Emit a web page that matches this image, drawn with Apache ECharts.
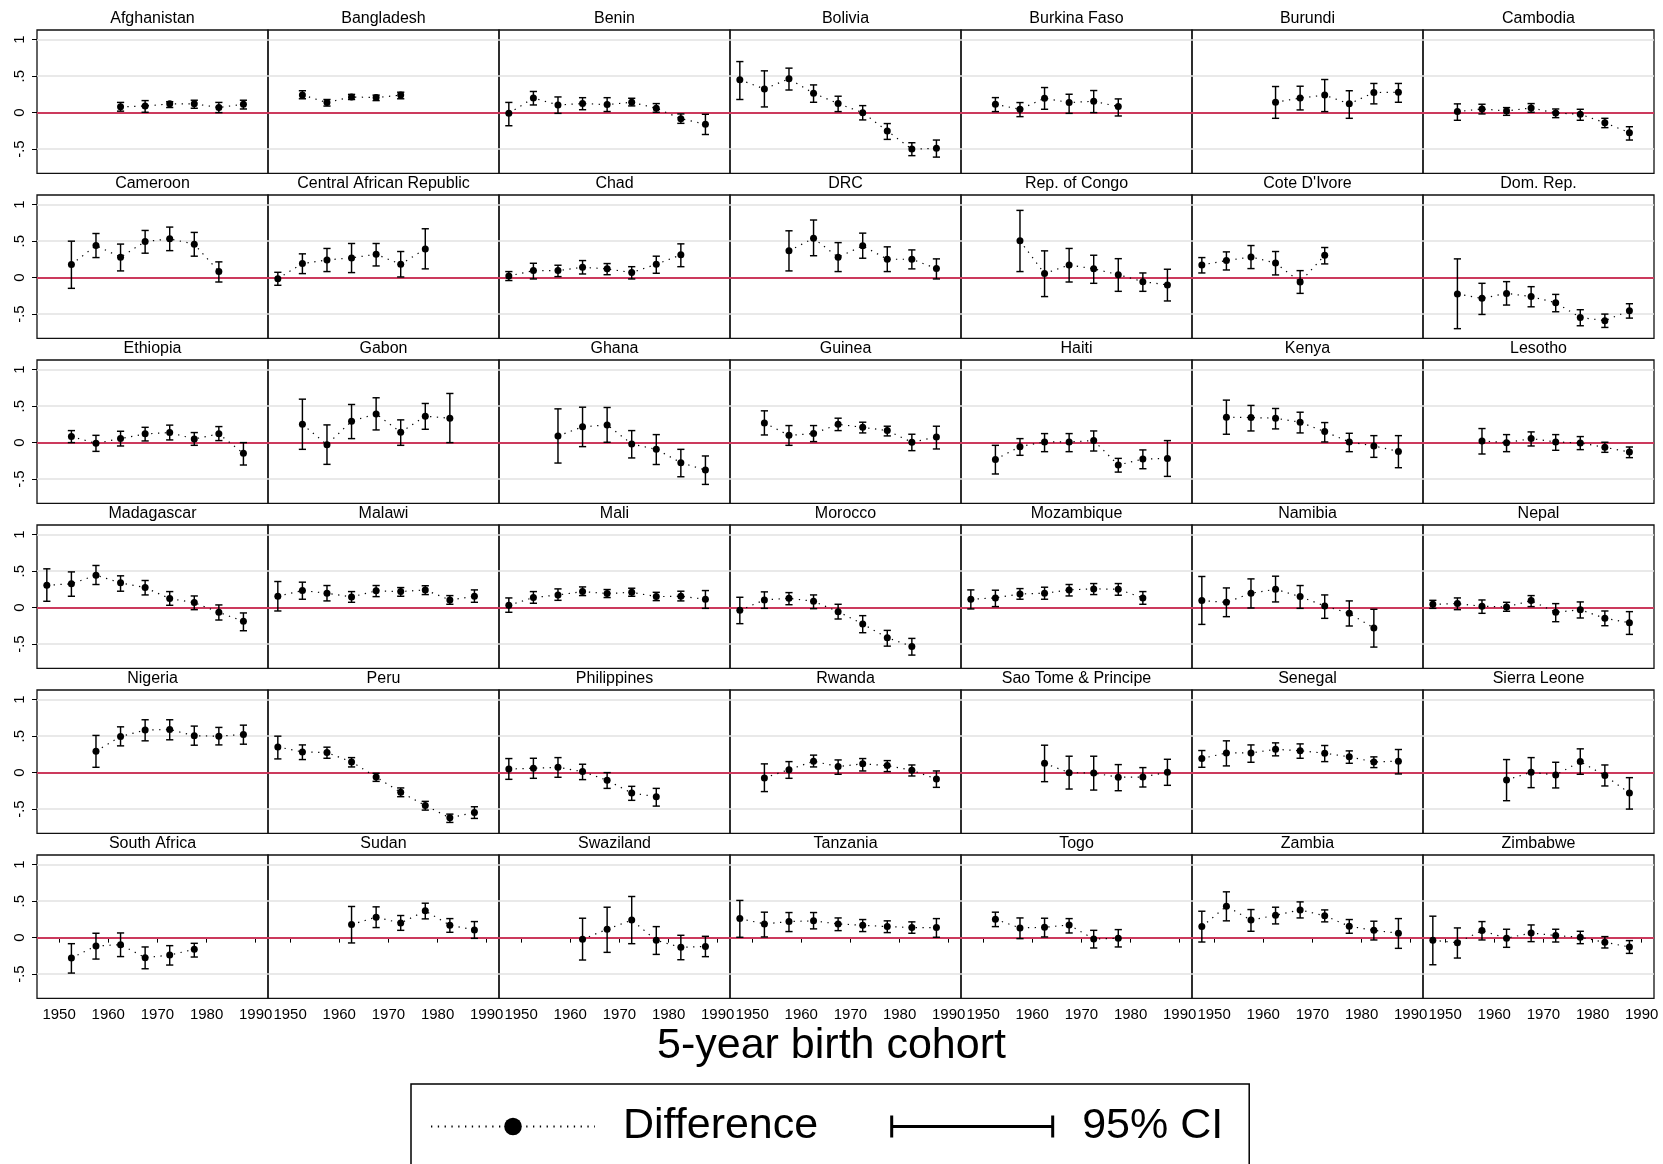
<!DOCTYPE html>
<html>
<head>
<meta charset="utf-8">
<script src="https://cdn.jsdelivr.net/npm/echarts@6/dist/echarts.min.js"></script>
<style>
  html, body { margin: 0; padding: 0; background: #ffffff; }
  #chart { width: 1663px; height: 1164px; }
</style>
</head>
<body>
<div id="chart"></div>
<script>
// Panels, in reading order (7 per row)
const countries = [
  'Afghanistan', 'Bangladesh', 'Benin', 'Bolivia', 'Burkina Faso', 'Burundi', 'Cambodia',
  'Cameroon', 'Central African Republic', 'Chad', 'DRC', 'Rep. of Congo', "Cote D'Ivore", 'Dom. Rep.',
  'Ethiopia', 'Gabon', 'Ghana', 'Guinea', 'Haiti', 'Kenya', 'Lesotho',
  'Madagascar', 'Malawi', 'Mali', 'Morocco', 'Mozambique', 'Namibia', 'Nepal',
  'Nigeria', 'Peru', 'Philippines', 'Rwanda', 'Sao Tome & Principe', 'Senegal', 'Sierra Leone',
  'South Africa', 'Sudan', 'Swaziland', 'Tanzania', 'Togo', 'Zambia', 'Zimbabwe'
];

// Midpoints of the 5-year birth cohorts
const cohorts = [1947.5, 1952.5, 1957.5, 1962.5, 1967.5, 1972.5, 1977.5, 1982.5, 1987.5];

// Tick values and their printed labels
const xTicks = [1950, 1960, 1970, 1980, 1990];
const yTicks = [-0.5, 0, 0.5, 1];
const yTickLabels = ['-.5', '0', '.5', '1'];

// Estimated difference per cohort (null = cohort not observed)
const difference = [
  [null, null, null, 0.08, 0.09, 0.12, 0.12, 0.07, 0.115],          // Afghanistan
  [null, 0.243, 0.138, 0.215, 0.206, 0.24, null, null, null],       // Bangladesh
  [-0.01, 0.20, 0.105, 0.124, 0.11, 0.142, 0.06, -0.083, -0.16],    // Benin
  [0.45, 0.325, 0.463, 0.266, 0.124, 0.0, -0.252, -0.50, -0.49],    // Bolivia
  [null, 0.115, 0.046, 0.197, 0.138, 0.156, 0.083, null, null],     // Burkina Faso
  [null, null, null, 0.142, 0.20, 0.24, 0.12, 0.275, 0.28],         // Burundi
  [null, 0.014, 0.05, 0.023, 0.064, -0.005, -0.023, -0.138, -0.275],// Cambodia
  [null, 0.18, 0.44, 0.28, 0.495, 0.532, 0.459, 0.083, null],       // Cameroon
  [-0.014, 0.193, 0.243, 0.27, 0.32, 0.183, 0.394, null, null],     // Central African Republic
  [0.023, 0.096, 0.096, 0.142, 0.12, 0.069, 0.183, 0.312, null],    // Chad
  [null, null, 0.367, 0.54, 0.28, 0.436, 0.252, 0.252, 0.124],      // DRC
  [null, null, 0.505, 0.055, 0.174, 0.12, 0.041, -0.055, -0.10],    // Rep. of Congo
  [0.174, 0.234, 0.284, 0.20, -0.06, 0.307, null, null, null],      // Cote D'Ivore
  [null, -0.225, -0.284, -0.216, -0.26, -0.344, -0.546, -0.59, -0.454], // Dom. Rep.
  [null, 0.083, -0.01, 0.055, 0.12, 0.138, 0.05, 0.12, -0.147],     // Ethiopia
  [null, 0.252, -0.028, 0.294, 0.394, 0.142, 0.362, 0.335, null],   // Gabon
  [null, null, 0.092, 0.216, 0.243, -0.018, -0.092, -0.275, -0.376],// Ghana
  [null, 0.27, 0.10, 0.124, 0.252, 0.21, 0.165, 0.005, 0.078],      // Guinea
  [null, -0.23, -0.055, 0.01, 0.01, 0.028, -0.307, -0.225, -0.216], // Haiti
  [null, 0.349, 0.344, 0.335, 0.28, 0.151, 0.01, -0.046, -0.12],    // Kenya
  [null, null, 0.023, 0.0, 0.055, 0.01, -0.005, -0.064, -0.128],    // Lesotho
  [0.307, 0.326, 0.445, 0.34, 0.275, 0.124, 0.069, -0.064, -0.188], // Madagascar
  [0.156, 0.234, 0.197, 0.147, 0.23, 0.22, 0.243, 0.105, 0.156],    // Malawi
  [0.032, 0.138, 0.174, 0.22, 0.193, 0.21, 0.151, 0.156, 0.115],    // Mali
  [-0.037, 0.105, 0.128, 0.087, -0.055, -0.225, -0.413, -0.532, null], // Morocco
  [0.115, 0.133, 0.188, 0.197, 0.243, 0.257, 0.252, 0.133, null],   // Mozambique
  [0.096, 0.073, 0.197, 0.252, 0.151, 0.023, -0.078, -0.28, null],  // Namibia
  [0.046, 0.055, 0.018, 0.01, 0.096, -0.064, -0.028, -0.147, -0.206], // Nepal
  [null, null, 0.294, 0.495, 0.583, 0.592, 0.505, 0.50, 0.523],     // Nigeria
  [0.353, 0.284, 0.275, 0.147, -0.06, -0.27, -0.45, -0.62, -0.546], // Peru
  [0.05, 0.06, 0.073, 0.014, -0.105, -0.28, -0.33, null, null],     // Philippines
  [null, -0.073, 0.041, 0.156, 0.083, 0.12, 0.096, 0.032, -0.087],  // Rwanda
  [null, null, null, 0.128, 0.0, -0.005, -0.064, -0.06, 0.005],     // Sao Tome & Principe
  [0.193, 0.27, 0.27, 0.32, 0.30, 0.266, 0.216, 0.147, 0.156],      // Senegal
  [null, null, null, -0.10, 0.005, -0.032, 0.151, -0.04, -0.28],    // Sierra Leone
  [null, -0.28, -0.115, -0.096, -0.275, -0.239, -0.16, null, null], // South Africa
  [null, null, null, 0.18, 0.28, 0.20, 0.367, 0.17, 0.105],         // Sudan
  [null, null, null, -0.023, 0.115, 0.24, -0.037, -0.133, -0.12],   // Swaziland
  [0.261, 0.188, 0.22, 0.23, 0.188, 0.17, 0.151, 0.138, 0.138],     // Tanzania
  [null, 0.252, 0.133, 0.142, 0.174, -0.018, -0.01, null, null],    // Togo
  [0.151, 0.431, 0.24, 0.307, 0.38, 0.30, 0.156, 0.10, 0.06],       // Zambia
  [-0.037, -0.069, 0.096, -0.009, 0.064, 0.028, 0.005, -0.064, -0.128] // Zimbabwe
];

// Lower bound of the 95% confidence interval
const ciLow = [
  [null, null, null, 0.02, 0.005, 0.07, 0.06, 0.0, 0.05],
  [null, 0.19, 0.09, 0.18, 0.165, 0.19, null, null, null],
  [-0.18, 0.105, -0.01, 0.04, 0.015, 0.092, 0.005, -0.147, -0.30],
  [0.18, 0.078, 0.31, 0.142, 0.014, -0.10, -0.367, -0.59, -0.61],
  [null, 0.014, -0.055, 0.046, -0.01, 0.0, -0.046, null, null],
  [null, null, null, -0.078, 0.037, 0.014, -0.078, 0.12, 0.142],
  [null, -0.105, -0.018, -0.037, 0.005, -0.069, -0.105, -0.206, -0.376],
  [null, -0.147, 0.275, 0.092, 0.335, 0.37, 0.294, -0.06, null],
  [-0.105, 0.055, 0.083, 0.069, 0.16, 0.009, 0.12, null, null],
  [-0.04, -0.018, 0.014, 0.05, 0.04, -0.018, 0.06, 0.15, null],
  [null, null, 0.092, 0.30, 0.083, 0.266, 0.083, 0.12, -0.018],
  [null, null, 0.083, -0.26, -0.06, -0.078, -0.188, -0.188, -0.32],
  [0.064, 0.105, 0.124, 0.037, -0.216, 0.188, null, null, null],
  [null, -0.70, -0.505, -0.376, -0.40, -0.468, -0.66, -0.683, -0.555],
  [null, 0.0, -0.12, -0.046, 0.023, 0.037, -0.037, 0.028, -0.307],
  [null, -0.092, -0.298, 0.055, 0.174, -0.037, 0.183, 0.0, null],
  [null, null, -0.28, -0.055, 0.005, -0.21, -0.30, -0.468, -0.573],
  [null, 0.105, -0.037, 0.014, 0.165, 0.133, 0.092, -0.11, -0.087],
  [null, -0.43, -0.174, -0.124, -0.124, -0.115, -0.404, -0.358, -0.463],
  [null, 0.115, 0.16, 0.188, 0.133, 0.009, -0.124, -0.202, -0.344],
  [null, null, -0.156, -0.124, -0.046, -0.105, -0.096, -0.133, -0.206],
  [0.087, 0.156, 0.317, 0.225, 0.174, 0.032, -0.028, -0.17, -0.317],
  [-0.046, 0.115, 0.092, 0.073, 0.151, 0.156, 0.179, 0.046, 0.073],
  [-0.064, 0.06, 0.10, 0.165, 0.138, 0.156, 0.096, 0.092, -0.01],
  [-0.22, -0.01, 0.04, -0.014, -0.156, -0.344, -0.528, -0.651, null],
  [-0.018, 0.014, 0.115, 0.115, 0.16, 0.179, 0.17, 0.046, null],
  [-0.23, -0.124, -0.005, 0.078, -0.01, -0.147, -0.252, -0.541, null],
  [-0.01, -0.028, -0.078, -0.05, 0.014, -0.193, -0.142, -0.248, -0.367],
  [null, null, 0.073, 0.367, 0.436, 0.45, 0.376, 0.38, 0.39],
  [0.188, 0.179, 0.197, 0.078, -0.12, -0.33, -0.514, -0.683, -0.628],
  [-0.092, -0.078, -0.064, -0.096, -0.216, -0.38, -0.459, null, null],
  [null, -0.26, -0.078, 0.078, -0.023, 0.023, 0.014, -0.046, -0.202],
  [null, null, null, -0.124, -0.225, -0.239, -0.248, -0.197, -0.174],
  [0.073, 0.092, 0.142, 0.23, 0.197, 0.151, 0.128, 0.069, -0.018],
  [null, null, null, -0.385, -0.206, -0.21, -0.023, -0.183, -0.50],
  [null, -0.486, -0.294, -0.26, -0.427, -0.376, -0.266, null, null],
  [null, null, null, -0.073, 0.138, 0.10, 0.257, 0.073, -0.01],
  [null, null, null, -0.307, -0.202, -0.083, -0.23, -0.303, -0.261],
  [0.005, 0.009, 0.083, 0.12, 0.096, 0.083, 0.069, 0.06, 0.005],
  [null, 0.151, -0.014, 0.009, 0.064, -0.142, -0.128, null, null],
  [-0.06, 0.23, 0.087, 0.188, 0.27, 0.216, 0.06, -0.032, -0.147],
  [-0.372, -0.28, -0.032, -0.133, -0.055, -0.06, -0.083, -0.142, -0.216]
];

// Upper bound of the 95% confidence interval
const ciHigh = [
  [null, null, null, 0.14, 0.165, 0.15, 0.17, 0.14, 0.17],
  [null, 0.30, 0.18, 0.25, 0.24, 0.28, null, null, null],
  [0.14, 0.29, 0.215, 0.205, 0.205, 0.197, 0.124, -0.018, -0.023],
  [0.70, 0.573, 0.61, 0.38, 0.225, 0.096, -0.15, -0.413, -0.376],
  [null, 0.206, 0.138, 0.344, 0.252, 0.303, 0.188, null, null],
  [null, null, null, 0.358, 0.362, 0.454, 0.30, 0.40, 0.40],
  [null, 0.12, 0.115, 0.069, 0.124, 0.05, 0.046, -0.078, -0.193],
  [null, 0.50, 0.605, 0.46, 0.647, 0.693, 0.62, 0.216, null],
  [0.073, 0.326, 0.40, 0.468, 0.468, 0.358, 0.67, null, null],
  [0.083, 0.197, 0.17, 0.234, 0.193, 0.15, 0.294, 0.463, null],
  [null, null, 0.642, 0.79, 0.48, 0.61, 0.422, 0.38, 0.257],
  [null, null, 0.922, 0.367, 0.40, 0.307, 0.26, 0.064, 0.115],
  [0.275, 0.353, 0.44, 0.358, 0.096, 0.413, null, null, null],
  [null, 0.257, -0.078, -0.055, -0.124, -0.23, -0.44, -0.50, -0.358],
  [null, 0.165, 0.10, 0.156, 0.21, 0.24, 0.138, 0.22, 0.0],
  [null, 0.596, 0.243, 0.523, 0.615, 0.312, 0.537, 0.674, null],
  [null, null, 0.463, 0.486, 0.482, 0.165, 0.11, -0.092, -0.183],
  [null, 0.436, 0.234, 0.234, 0.335, 0.28, 0.225, 0.115, 0.225],
  [null, -0.037, 0.055, 0.124, 0.124, 0.16, -0.216, -0.10, 0.028],
  [null, 0.583, 0.51, 0.468, 0.417, 0.275, 0.128, 0.096, 0.096],
  [null, null, 0.193, 0.11, 0.147, 0.11, 0.083, 0.005, -0.06],
  [0.532, 0.49, 0.578, 0.436, 0.372, 0.22, 0.16, 0.037, -0.073],
  [0.358, 0.349, 0.303, 0.22, 0.303, 0.275, 0.30, 0.165, 0.243],
  [0.133, 0.22, 0.257, 0.284, 0.248, 0.266, 0.21, 0.225, 0.234],
  [0.142, 0.216, 0.206, 0.174, 0.046, -0.11, -0.312, -0.422, null],
  [0.243, 0.239, 0.261, 0.28, 0.317, 0.33, 0.33, 0.22, null],
  [0.427, 0.27, 0.394, 0.431, 0.303, 0.174, 0.092, -0.023, null],
  [0.10, 0.133, 0.105, 0.073, 0.165, 0.055, 0.078, -0.046, -0.055],
  [null, null, 0.51, 0.628, 0.725, 0.725, 0.638, 0.62, 0.651],
  [0.50, 0.38, 0.349, 0.206, -0.009, -0.21, -0.394, -0.569, -0.468],
  [0.193, 0.197, 0.206, 0.115, 0.0, -0.188, -0.216, null, null],
  [null, 0.12, 0.151, 0.24, 0.174, 0.193, 0.165, 0.105, 0.023],
  [null, null, null, 0.376, 0.225, 0.225, 0.11, 0.069, 0.183],
  [0.303, 0.436, 0.38, 0.408, 0.394, 0.372, 0.298, 0.216, 0.317],
  [null, null, null, 0.179, 0.206, 0.142, 0.326, 0.105, -0.069],
  [null, -0.083, 0.06, 0.064, -0.128, -0.11, -0.078, null, null],
  [null, null, null, 0.427, 0.422, 0.303, 0.472, 0.261, 0.22],
  [null, null, null, 0.266, 0.417, 0.564, 0.151, 0.032, 0.018],
  [0.51, 0.349, 0.344, 0.344, 0.27, 0.248, 0.23, 0.216, 0.261],
  [null, 0.349, 0.27, 0.266, 0.261, 0.10, 0.11, null, null],
  [0.362, 0.628, 0.385, 0.417, 0.49, 0.38, 0.248, 0.225, 0.261],
  [0.294, 0.133, 0.22, 0.115, 0.174, 0.115, 0.087, 0.014, -0.041]
];

// ---- layout of the small-multiple grid ----
const FONT = '"Liberation Sans", Arial, Helvetica, sans-serif';
const NCOL = 7;
const NROW = 6;
const PANEL_LEFT = 37;
const PANEL_TOP = 30;
const PANEL_W = 231;
const PANEL_H = 143.3;
const ROW_STEP = 165;
const X_MIN = 1945.5, X_MAX = 1992.5;
const Y_MIN = -0.832, Y_MAX = 1.133;

const chart = echarts.init(document.getElementById('chart'), null, { renderer: 'canvas' });

const grids = [], xAxes = [], yAxes = [], series = [], titles = [];

function yLabel(v) {
  let best = 0;
  for (let k = 1; k < yTicks.length; k++) {
    if (Math.abs(yTicks[k] - v) < Math.abs(yTicks[best] - v)) best = k;
  }
  return yTickLabels[best];
}

// Vertical CI whisker with short caps at both ends
function renderErrorBar(params, api) {
  const x = api.value(0);
  const lo = api.coord([x, api.value(1)]);
  const hi = api.coord([x, api.value(2)]);
  const cap = 3.6;
  const style = { stroke: '#000', lineWidth: 1.45 };
  return {
    type: 'group',
    children: [
      { type: 'line', shape: { x1: lo[0], y1: lo[1], x2: hi[0], y2: hi[1] }, style },
      { type: 'line', shape: { x1: lo[0] - cap, y1: lo[1], x2: lo[0] + cap, y2: lo[1] }, style },
      { type: 'line', shape: { x1: hi[0] - cap, y1: hi[1], x2: hi[0] + cap, y2: hi[1] }, style }
    ]
  };
}

countries.forEach((name, i) => {
  const r = Math.floor(i / NCOL);
  const c = i % NCOL;
  const left = PANEL_LEFT + PANEL_W * c;
  const top = PANEL_TOP + ROW_STEP * r;
  const bottomRow = r === NROW - 1;
  const firstCol = c === 0;

  grids.push({
    left: left, top: top, width: PANEL_W, height: PANEL_H,
    show: true, borderColor: '#111', borderWidth: 1.3, backgroundColor: 'transparent'
  });

  xAxes.push({
    gridIndex: i, type: 'value', min: X_MIN, max: X_MAX,
    axisLine: { show: false },
    splitLine: { show: false },
    axisTick: { show: bottomRow, customValues: xTicks, length: 5, lineStyle: { color: '#000', width: 1 } },
    axisLabel: {
      show: bottomRow, customValues: xTicks, margin: 9,
      fontSize: 15, color: '#000', fontFamily: FONT,
      formatter: v => String(Math.round(v))
    }
  });

  yAxes.push({
    gridIndex: i, type: 'value', min: Y_MIN, max: Y_MAX,
    axisLine: { show: false },
    splitLine: { show: false },
    axisTick: { show: firstCol, customValues: yTicks, length: 5, lineStyle: { color: '#000', width: 1 } },
    axisLabel: {
      show: firstCol, customValues: yTicks, rotate: 90, margin: 10,
      fontSize: 15, color: '#000', fontFamily: FONT,
      formatter: yLabel
    }
  });

  titles.push({
    text: name,
    left: left + PANEL_W / 2,
    top: 19 + ROW_STEP * r,
    textAlign: 'center',
    textVerticalAlign: 'middle',
    padding: 0,
    textStyle: { fontSize: 16, fontWeight: 'normal', color: '#000', fontFamily: FONT }
  });

  const points = [], bars = [];
  cohorts.forEach((yr, k) => {
    const v = difference[i][k];
    if (v === null || v === undefined) return;
    points.push([yr, v]);
    bars.push([yr, ciLow[i][k], ciHigh[i][k]]);
  });

  series.push({
    type: 'custom',
    name: '95% CI',
    xAxisIndex: i, yAxisIndex: i,
    renderItem: renderErrorBar,
    encode: { x: 0, y: [1, 2] },
    data: bars,
    itemStyle: { color: '#000' },
    z: 3,
    silent: true,
    animation: false
  });

  series.push({
    type: 'line',
    name: 'Difference',
    xAxisIndex: i, yAxisIndex: i,
    data: points,
    symbol: 'circle',
    symbolSize: 7,
    showSymbol: true,
    itemStyle: { color: '#000' },
    lineStyle: { color: '#000', width: 1.2, type: [1.3, 5.5] },
    z: 4,
    silent: true,
    animation: false,
    markLine: {
      silent: true,
      symbol: 'none',
      z: 1,
      animation: false,
      label: { show: false },
      data: [
        ...yTicks.filter(v => v !== 0).map(v => ({
          yAxis: v, lineStyle: { color: '#e2e2e2', width: 1.6, type: 'solid' }
        })),
        { yAxis: 0, lineStyle: { color: '#cc3a5d', width: 2.2, type: 'solid' } }
      ]
    }
  });
});

// Shared x-axis title
titles.push({
  text: '5-year birth cohort',
  left: 831.5,
  top: 1046,
  textAlign: 'center',
  textVerticalAlign: 'middle',
  padding: 0,
  textStyle: { fontSize: 43, fontWeight: 'normal', color: '#000', fontFamily: FONT }
});

const option = {
  backgroundColor: '#ffffff',
  animation: false,
  title: titles,
  grid: grids,
  xAxis: xAxes,
  yAxis: yAxes,
  legend: {
    selectedMode: false,
    left: 411,
    top: 1084,
    orient: 'horizontal',
    padding: [21, 26, 30, 19],
    itemGap: 72,
    itemWidth: 164,
    itemHeight: 22,
    borderColor: '#000',
    borderWidth: 1.5,
    backgroundColor: '#fff',
    textStyle: { fontSize: 43, color: '#000', fontFamily: FONT, padding: [0, 0, 0, 23] },
    data: [
      { name: 'Difference' },
      { name: '95% CI', icon: 'path://M0,0H3V22H0Z M0,9.5H164V12.5H0Z M161,0H164V22H161Z' }
    ]
  },
  series: series
};

chart.setOption(option);
</script>
</body>
</html>
